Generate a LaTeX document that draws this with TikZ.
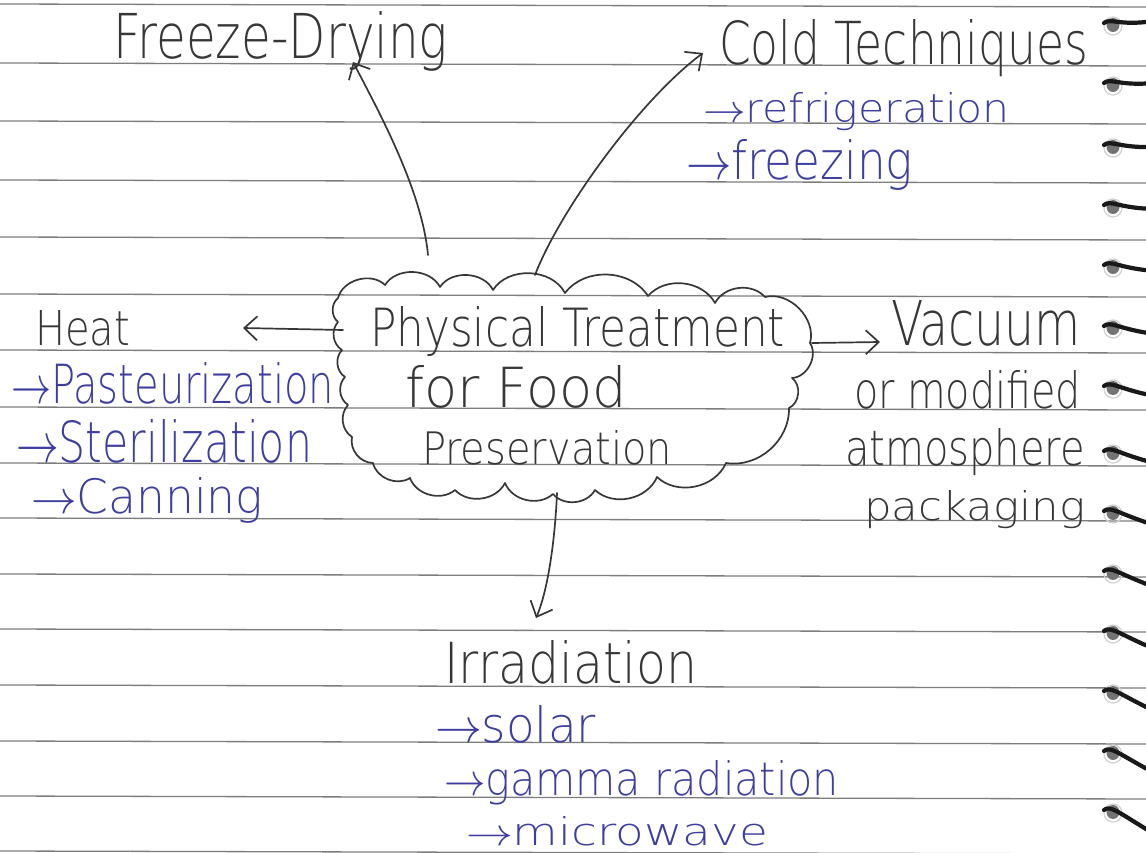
\documentclass[tikz,border=0pt]{standalone}
\usepackage{fontspec}
\usetikzlibrary{arrows.meta}
\IfFontExistsTF{DejaVu Sans ExtraLight}{\setmainfont{DejaVu Sans ExtraLight}}{\setmainfont{DejaVu Sans}}
\definecolor{ink}{RGB}{55,55,55}
\definecolor{blueink}{RGB}{62,62,160}
\definecolor{rulecol}{RGB}{125,125,125}
\newcommand\hw[3]{\resizebox{#1pt}{#2pt}{#3}}
\newcommand\harr{$\rightarrow$}
\begin{document}
\begin{tikzpicture}[x=1pt,y=1pt,
  txt/.style={inner sep=0pt, outer sep=0pt, anchor=base west, text=ink},
  btxt/.style={txt, text=blueink},
  conn/.style={draw=ink, line width=1.7pt, line cap=round, -{Straight Barb[length=13pt,width=24pt]}},
  cloudline/.style={draw=ink, line width=1.7pt, line join=round},
  paperline/.style={draw=rulecol, line width=1.3pt}]
\useasboundingbox (0,0) rectangle (1146,-853);
\fill[white] (0,0) rectangle (1146,-853);
% ruled lines
\foreach \y in {5,64,122,181,238,295,351,408,464,519,575,630,686,742,797,852}
  \draw[paperline] (0,-\y+1) -- (1146,-\y-2);
% spiral holes
\foreach \y [count=\i from 0] in {25,85,147,207,267,328,388,453,513,573,633,693,753,812}{
  \pgfmathsetmacro\s{-3+20*\i/13}
  \draw[black!18, line width=1.2pt] (1113,-\y-1) ellipse (9 and 9);
  \fill[black!55] (1113,-\y) ellipse (6.5 and 7);
  \draw[black!90, line width=4.2pt, line cap=round] (1104,-\y+2) .. controls (1110,-\y+7) and (1118,-\y) .. (1146,-\y-\s);
}
% cloud (clockwise on screen: bulges to the left of travel)
\draw[cloudline] (338,-298) to[bend left=60] (385,-285) to[bend left=60] (440,-287)
  to[bend left=60] (493,-290) to[bend left=60] (565,-293) to[bend left=55] (648,-296)
  to[bend left=55] (715,-303) to[bend left=55] (765,-297) to[bend left=60] (810,-343)
  to[bend left=60] (792,-378) to[bend left=60] (789,-408) to[bend left=50] (726,-463)
  to[bend left=55] (657,-477) to[bend left=55] (595,-490) to[bend left=55] (553,-494)
  to[bend left=55] (505,-483) to[bend left=55] (455,-490) to[bend left=55] (410,-478)
  to[bend left=55] (373,-463) to[bend left=50] (352,-437) to[bend left=50] (348,-405)
  to[bend left=50] (345,-377) to[bend left=50] (342,-350) to[bend left=50] (338,-322)
  to[bend left=50] (338,-298);
% texts
\node[txt] (fd) at (113,-59) {\hw{335}{47}{Freeze-Drying}};
\node[txt] (cold) at (719,-65) {\hw{369}{45}{Cold Techniques}};
\node[btxt] (refr) at (703,-123) {\hw{307}{30}{\harr refrigeration}};
\node[btxt] (frz) at (686,-180) {\hw{227}{40}{\harr freezing}};
\node[txt] (heat) at (35,-345) {\hw{95}{35}{Heat}};
\node[btxt] (past) at (11,-403) {\hw{323}{41}{\harr Pasteurization}};
\node[btxt] (ster) at (16,-462) {\hw{296}{43}{\harr Sterilization}};
\node[btxt] (can) at (31,-513) {\hw{232}{36}{\harr Canning}};
\node[txt] (c1) at (370,-346) {\hw{415}{40}{Physical Treatment}};
\node[txt] (c2) at (405,-407) {\hw{222}{42}{for Food}};
\node[txt] (c3) at (422,-464) {\hw{250}{34}{Preservation}};
\node[txt] (vac) at (891,-345) {\hw{190}{45}{Vacuum}};
\node[txt] (om) at (854,-408) {\hw{227}{38}{or modified}};
\node[txt] (atm) at (845,-465) {\hw{240}{37}{atmosphere}};
\node[txt] (pack) at (864,-520) {\hw{221}{30}{packaging}};
\node[txt] (irr) at (444,-683) {\hw{253}{43}{Irradiation}};
\node[btxt] (sol) at (435,-742) {\hw{161}{37}{\harr solar}};
\node[btxt] (gam) at (444,-795) {\hw{395}{35}{\harr gamma radiation}};
\node[btxt] (mic) at (466,-845) {\hw{302}{29}{\harr microwave}};
% connector end points
\coordinate (fdS) at (428,-255); \coordinate (fdE) at (353,-62);
\coordinate (ctS) at (535,-275); \coordinate (ctE) at (703,-53);
\coordinate (hS) at (343,-330);  \coordinate (hE) at (243,-328);
\coordinate (vS) at (812,-343);  \coordinate (vE) at (880,-342);
\coordinate (iS) at (557,-493);  \coordinate (iE) at (536,-618);
% connectors
\draw[conn] (fdS) .. controls (422,-190) and (378,-110) .. (fdE);
\draw[conn] (ctS) .. controls (560,-210) and (640,-100) .. (ctE);
\draw[conn] (hS) -- (hE);
\draw[conn] (vS) -- (vE);
\draw[conn] (iS) .. controls (555,-540) and (548,-590) .. (iE);
\end{tikzpicture}
\end{document}
